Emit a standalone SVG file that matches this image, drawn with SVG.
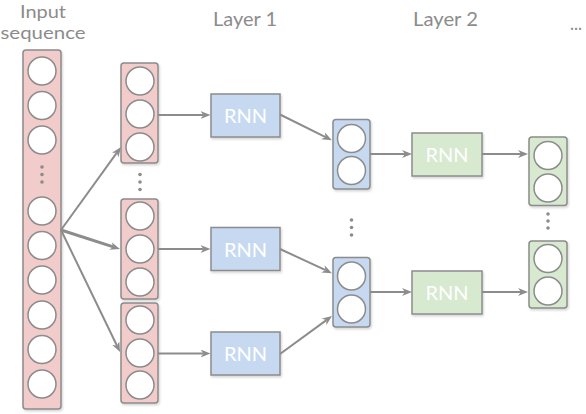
<svg xmlns="http://www.w3.org/2000/svg" width="586" height="414" viewBox="0 0 586 414">
<defs>
<marker id="ah" markerUnits="userSpaceOnUse" markerWidth="11" markerHeight="9" refX="3" refY="4" orient="auto" viewBox="0 0 11 9">
<path d="M0,0 L10,4 L0,8 L3,4 z" fill="#8c8c8c"/>
</marker>
<filter id="sh" x="-20%" y="-20%" width="140%" height="140%">
<feDropShadow dx="1" dy="1.5" stdDeviation="1" flood-color="#000" flood-opacity="0.18"/>
</filter>
</defs>
<style>
.lbl{font-family:Lato,"Open Sans","Liberation Sans",sans-serif;fill:#8c8c8c;font-size:20px}
.in{font-size:17.5px}
.rnn{font-family:Lato,"Open Sans","Liberation Sans",sans-serif;fill:#ffffff;font-size:20px;text-anchor:middle}
.pink{fill:#f2cbcb;stroke:#8c8c8c;stroke-width:1.5;filter:url(#sh)}
.blue{fill:#c6d9f1;stroke:#8c8c8c;stroke-width:1.5;filter:url(#sh)}
.green{fill:#d7e9cf;stroke:#8c8c8c;stroke-width:1.5;filter:url(#sh)}
.c{fill:#ffffff;stroke:#8c8c8c;stroke-width:1.5}
.dot{fill:#8c8c8c}
.ln{stroke:#8c8c8c;stroke-width:2;fill:none;marker-end:url(#ah)}
</style>

<g id="titles">
<text class="lbl in" x="43" y="17.5" text-anchor="middle" textLength="46" lengthAdjust="spacingAndGlyphs">Input</text>
<text class="lbl in" x="43" y="39" text-anchor="middle" textLength="85" lengthAdjust="spacingAndGlyphs">sequence</text>
<text class="lbl" x="213" y="26" textLength="64" lengthAdjust="spacingAndGlyphs">Layer 1</text>
<text class="lbl" x="413" y="26" textLength="65" lengthAdjust="spacingAndGlyphs">Layer 2</text>
<text class="lbl" x="570" y="30" textLength="12" lengthAdjust="spacingAndGlyphs">...</text>
</g>

<g id="input">
<rect class="pink" x="23" y="50" width="38" height="359" rx="3"/>
<circle class="c" cx="42" cy="71" r="14"/>
<circle class="c" cx="42" cy="105.5" r="14"/>
<circle class="c" cx="42" cy="140" r="14"/>
<circle class="dot" cx="42" cy="167" r="1.8"/>
<circle class="dot" cx="42" cy="174.5" r="1.8"/>
<circle class="dot" cx="42" cy="182" r="1.8"/>
<circle class="c" cx="42" cy="211" r="14"/>
<circle class="c" cx="42" cy="245.5" r="14"/>
<circle class="c" cx="42" cy="280" r="14"/>
<circle class="c" cx="42" cy="315" r="14"/>
<circle class="c" cx="42" cy="349.5" r="14"/>
<circle class="c" cx="42" cy="384" r="14"/>
</g>

<g id="block1">
<rect class="pink" x="121" y="63" width="37" height="100" rx="3"/>
<circle class="c" cx="140" cy="81" r="14"/>
<circle class="c" cx="140" cy="114" r="14"/>
<circle class="c" cx="140" cy="147" r="14"/>
</g>
<g id="block1-dots">
<circle class="dot" cx="140" cy="174.5" r="1.8"/>
<circle class="dot" cx="140" cy="182" r="1.8"/>
<circle class="dot" cx="140" cy="189.5" r="1.8"/>
</g>
<g id="block2">
<rect class="pink" x="121" y="199" width="37" height="100" rx="3"/>
<circle class="c" cx="140" cy="216" r="14"/>
<circle class="c" cx="140" cy="249" r="14"/>
<circle class="c" cx="140" cy="282" r="14"/>
</g>
<g id="block3">
<rect class="pink" x="121" y="303" width="37" height="100" rx="3"/>
<circle class="c" cx="140" cy="320" r="14"/>
<circle class="c" cx="140" cy="353" r="14"/>
<circle class="c" cx="140" cy="385" r="14"/>
</g>

<g id="rnn1a">
<rect class="blue" x="211" y="94" width="69" height="43"/>
<text class="rnn" x="245.5" y="123">RNN</text>
</g>
<g id="rnn1b">
<rect class="blue" x="211" y="227.5" width="69" height="43"/>
<text class="rnn" x="245.5" y="256.5">RNN</text>
</g>
<g id="rnn1c">
<rect class="blue" x="211" y="332" width="69" height="43"/>
<text class="rnn" x="245.5" y="361">RNN</text>
</g>

<g id="out1a">
<rect class="blue" x="333" y="119.5" width="37" height="69.5" rx="3"/>
<circle class="c" cx="351.5" cy="138.5" r="14"/>
<circle class="c" cx="351.5" cy="170.5" r="14"/>
</g>
<g id="out1-dots">
<circle class="dot" cx="351.5" cy="220" r="1.8"/>
<circle class="dot" cx="351.5" cy="227.5" r="1.8"/>
<circle class="dot" cx="351.5" cy="235" r="1.8"/>
</g>
<g id="out1b">
<rect class="blue" x="333" y="257.5" width="37" height="69.5" rx="3"/>
<circle class="c" cx="351.5" cy="276" r="14"/>
<circle class="c" cx="351.5" cy="309" r="14"/>
</g>

<g id="rnn2a">
<rect class="green" x="412" y="133" width="70" height="43"/>
<text class="rnn" x="447" y="162">RNN</text>
</g>
<g id="rnn2b">
<rect class="green" x="412" y="271" width="70" height="43"/>
<text class="rnn" x="447" y="300">RNN</text>
</g>

<g id="out2a">
<rect class="green" x="529" y="137" width="38" height="68.5" rx="3"/>
<circle class="c" cx="548" cy="155.5" r="14"/>
<circle class="c" cx="548" cy="188" r="14"/>
</g>
<g id="out2-dots">
<circle class="dot" cx="548" cy="214" r="1.8"/>
<circle class="dot" cx="548" cy="221" r="1.8"/>
<circle class="dot" cx="548" cy="228" r="1.8"/>
</g>
<g id="out2b">
<rect class="green" x="529" y="241" width="38" height="67" rx="3"/>
<circle class="c" cx="548" cy="258.5" r="14"/>
<circle class="c" cx="548" cy="291" r="14"/>
</g>

<g id="connectors">
<line class="ln" x1="61" y1="230" x2="116.9" y2="152.7"/>
<line class="ln" x1="61" y1="230" x2="113.3" y2="246.9" style="stroke-width:3"/>
<line class="ln" x1="61" y1="230" x2="117" y2="345.7"/>
<line class="ln" x1="158" y1="115" x2="203.5" y2="115"/>
<line class="ln" x1="158" y1="249" x2="203.5" y2="249"/>
<line class="ln" x1="158" y1="353.5" x2="203.5" y2="353.5"/>
<line class="ln" x1="280" y1="114.5" x2="325.6" y2="137.1"/>
<line class="ln" x1="280" y1="249" x2="325.6" y2="270.2"/>
<line class="ln" x1="280" y1="354" x2="326.4" y2="320.1"/>
<line class="ln" x1="370" y1="154" x2="405" y2="154"/>
<line class="ln" x1="370" y1="292" x2="405" y2="292"/>
<line class="ln" x1="482" y1="154" x2="521" y2="154"/>
<line class="ln" x1="482" y1="292" x2="521" y2="292"/>
</g>
</svg>
